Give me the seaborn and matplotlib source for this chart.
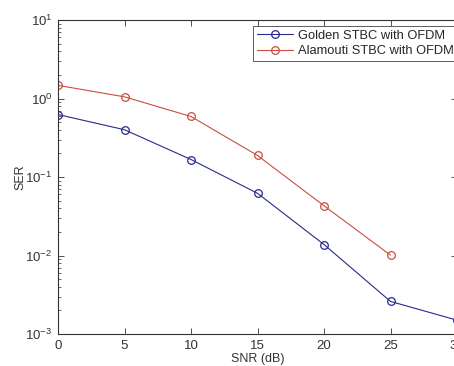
import numpy as np
import pandas as pd
import matplotlib
matplotlib.use("Agg")
import matplotlib.pyplot as plt
import seaborn as sns
from matplotlib.ticker import LogLocator, NullFormatter

snr = [0, 5, 10, 15, 20, 25, 30]
golden = [0.625, 0.40, 0.167, 0.062, 0.0138, 0.0026, 0.0015]
snr_alam = [0, 5, 10, 15, 20, 25]
alamouti = [1.47, 1.05, 0.59, 0.188, 0.043, 0.0101]
labels = ["Golden STBC with OFDM", "Alamouti STBC with OFDM"]

df = pd.concat([
    pd.DataFrame({"SNR": snr, "SER": golden, "scheme": labels[0]}),
    pd.DataFrame({"SNR": snr_alam, "SER": alamouti, "scheme": labels[1]}),
])

sns.set_style("white")
plt.rcParams['font.family'] = ['Liberation Sans', 'DejaVu Sans']
plt.rcParams['mathtext.fontset'] = 'custom'
plt.rcParams['mathtext.rm'] = 'Liberation Sans'

fig = plt.figure(figsize=(4.54, 3.66), dpi=100)
ax = fig.add_axes([58/454, 1-334/366, 399/454, 314/366])

palette = {labels[0]: "#2a2a90", labels[1]: "#c8503e"}
sns.lineplot(data=df, x="SNR", y="SER", hue="scheme", palette=palette,
             marker="o", markersize=5.5, markerfacecolor="none",
             markeredgewidth=0.9, linewidth=0.8, ax=ax, sort=False)
for line in ax.get_lines():
    line.set_markeredgecolor(line.get_color())
    line.set_markerfacecolor("none")

ax.set_yscale("log")
ax.set_xlim(0, 30)
ax.set_ylim(1e-3, 10)
ax.set_xticks([0, 5, 10, 15, 20, 25, 30])
ax.yaxis.set_major_locator(LogLocator(base=10, numticks=10))
ax.yaxis.set_minor_locator(LogLocator(base=10, subs=np.arange(2, 10), numticks=20))
ax.yaxis.set_minor_formatter(NullFormatter())
ax.tick_params(axis="both", which="both", direction="in", top=True, right=True,
               bottom=True, left=True,
               labelsize=9.5, colors="#333333", labelcolor="#333333")
ax.tick_params(which="major", length=4, width=0.6, pad=4)
ax.tick_params(which="minor", length=2, width=0.5)
for s in ax.spines.values():
    s.set_color("#333333")
    s.set_linewidth(0.8)
ax.set_xlabel("SNR (dB)", fontsize=9, color="#333333", labelpad=1)
ax.set_ylabel("SER", fontsize=9, color="#333333", labelpad=-1)

leg = ax.legend(loc="upper left", bbox_to_anchor=(195/399, 1-6/314), fontsize=9.3,
                frameon=True, fancybox=False, edgecolor="#333333",
                borderpad=0.3, handlelength=2.8, labelspacing=0.25,
                borderaxespad=0, handletextpad=0.4)
leg.get_frame().set_linewidth(0.7)
for h in leg.get_lines():
    h.set_markerfacecolor("none")
    h.set_markeredgecolor(h.get_color())

fig.savefig("out.png", dpi=100, facecolor="white")
